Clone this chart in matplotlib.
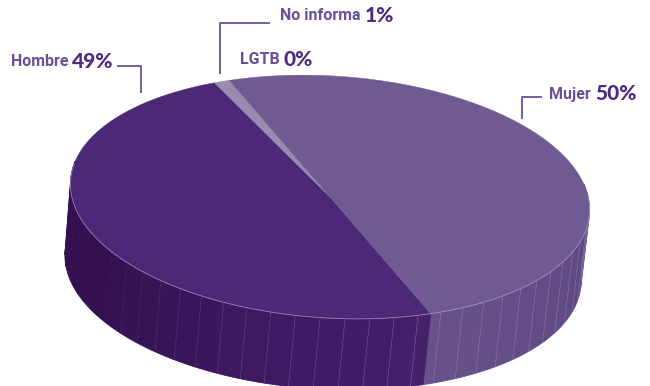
import numpy as np
import matplotlib.pyplot as plt
from matplotlib.patches import Polygon
from matplotlib.colors import to_rgb

# --- data ---
labels = ['Hombre', 'No informa', 'LGTB', 'Mujer']
values = [49, 1, 0, 50]
pct_text = ['49%', '1%', '0%', '50%']

top_colors = ['#4d2878', '#998ab0', '#998ab0', '#6f5a92']
side_far = ['#350f50', '#7d6c98', '#7d6c98', '#5c4680']   # colour at the silhouette
side_near = ['#45216d', '#7d6c98', '#7d6c98', '#67528a']  # colour at the front
name_color = '#6b4f97'
pct_color = '#4e2b80'

# --- pie geometry (pixels, y down) ---
cx, cy = 330.0, 197.0
a, b = 260.0, 121.0
phi = np.deg2rad(3.6)
depth = 71.0
bot_dx = -7.0
t_start = 65.5


def ell(t_deg, cx, cy, a, b):
    t = np.deg2rad(t_deg)
    x = cx + a*np.cos(t)*np.cos(phi) - b*np.sin(t)*np.sin(phi)
    y = cy + a*np.cos(t)*np.sin(phi) + b*np.sin(t)*np.cos(phi)
    return x, y


edges = t_start + 360.0*np.r_[0, np.cumsum(values)]/np.sum(values)

fig = plt.figure(figsize=(6.5, 3.86), dpi=100)
ax = fig.add_axes([0, 0, 1, 1])
ax.set_xlim(0, 650)
ax.set_ylim(386, 0)
ax.axis('off')


def slice_of(t):
    for i in range(len(values)):
        for k in (-360, 0, 360):
            if edges[i] <= t + k < edges[i+1]:
                return i
    return 0


# side facets, only the front part is visible
bounds = list(np.arange(-14, 195, 5.5))
for e in edges:
    for k in (-360, 0, 360):
        if -14 < e + k < 194:
            bounds.append(e + k)
bounds = np.sort(np.array(bounds))
for t1, t2 in zip(bounds[:-1], bounds[1:]):
    if t2 - t1 < 0.05:
        continue
    i = slice_of(0.5*(t1 + t2))
    tt = np.linspace(t1, t2, 6)
    xt, yt = ell(tt, cx, cy, a, b)
    xb, yb = ell(tt[::-1], cx + bot_dx, cy + depth, a - 1.5, b)
    # shade: darker toward the silhouette
    tm = 0.5*(t1 + t2)
    if i == 0:
        f = np.clip((tm - edges[0]) / (150 - edges[0]), 0, 1)
    else:
        f = np.clip((edges[-1] - 360 - tm) / (edges[-1] - 360 + 5), 0, 1)
    c = (1 - f)*np.array(to_rgb(side_near[i])) + f*np.array(to_rgb(side_far[i]))
    ax.add_patch(Polygon(np.c_[np.r_[xt, xb], np.r_[yt, yb]], closed=True,
                         facecolor=c, edgecolor=c, lw=0.6, zorder=1))
    if -5 < t1 < 155 and abs(t1 - edges[0]) > 0.1:
        x0, y0 = ell(t1, cx, cy, a, b)
        x1, y1 = ell(t1, cx + bot_dx, cy + depth, a - 1.5, b)
        al = 0.45 if i == 3 else 0.45*(1 - f)**0.7
        ax.plot([x0, x1], [y0, y1], color='#a895c8', lw=0.5, alpha=al, zorder=2)

# top face
for i in range(len(values)):
    if values[i] == 0:
        continue
    tt = np.linspace(edges[i], edges[i+1], 200)
    x, y = ell(tt, cx, cy, a, b)
    ax.add_patch(Polygon(np.c_[np.r_[cx, x], np.r_[cy, y]], closed=True,
                         facecolor=top_colors[i], edgecolor=top_colors[i], lw=0.3, zorder=3))

# rim highlight
tt = np.linspace(-8, 188, 300)
x, y = ell(tt, cx, cy, a, b)
ax.plot(x, y, color='#b8a8d0', lw=0.6, alpha=0.7, zorder=4)

# --- labels & leader lines ---
line_kw = dict(color='#6b4f97', lw=1.3, solid_capstyle='butt', zorder=5)
ax.plot([117, 141, 141], [66, 66, 93], **line_kw)
ax.plot([270, 220, 220], [23, 23, 74], **line_kw)
ax.plot([542, 522, 522], [97, 97, 119], **line_kw)

name_font = dict(family=['Roboto', 'DejaVu Sans'], fontweight='bold',
                 fontsize=11.5, color=name_color, va='center', ha='right')
pct_font = dict(family=['Lato', 'DejaVu Sans'], fontweight='black', fontsize=15,
                color=pct_color, va='center', ha='left')

label_pos = [(68, 62), (361, 16), (280, 59), (591, 94)]
for (x, y), name, p in zip(label_pos, labels, pct_text):
    ax.text(x, y, name, **name_font)
    ax.text(x + 4, y, p, **pct_font)

fig.savefig('out.png', dpi=100)
